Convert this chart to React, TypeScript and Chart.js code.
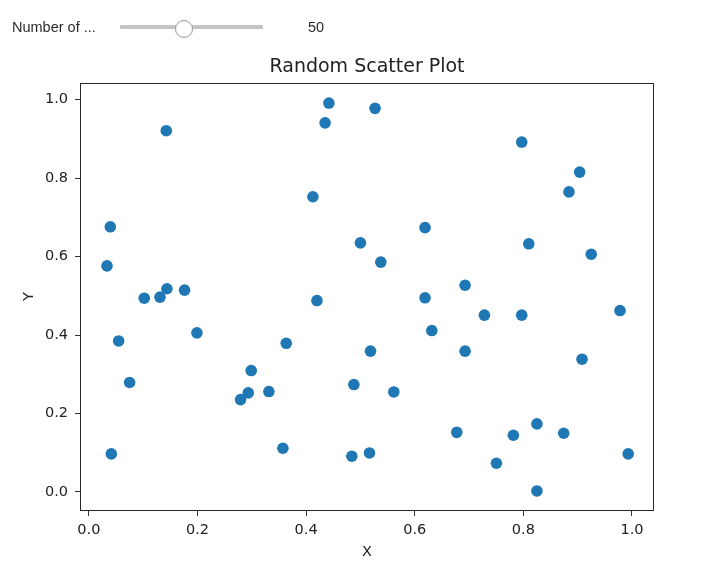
import React, { useEffect, useRef } from "react";
import { Chart, registerables } from "chart.js";

Chart.register(...registerables);

const chartTitle = "Random Scatter Plot";
const xAxisLabel = "X";
const yAxisLabel = "Y";
const sliderLabel = "Number of ...";
const sliderValue = 50;
const sliderMin = 10;
const sliderMax = 100;

const xValues = [
  0.1426, 0.442, 0.435, 0.4125, 0.0396, 0.0335, 0.102, 0.131, 0.1438, 0.1763,
  0.42, 0.5, 0.527, 0.797, 0.9037, 0.884, 0.619, 0.81, 0.5376, 0.925,
  0.6927, 0.619, 0.978, 0.0549, 0.199, 0.3634, 0.0751, 0.299, 0.2935, 0.2794,
  0.3315, 0.488, 0.0414, 0.3573, 0.4842, 0.7283, 0.797, 0.6314, 0.5186, 0.6927,
  0.908, 0.5615, 0.6774, 0.825, 0.7816, 0.8743, 0.5167, 0.7504, 0.993, 0.825,
];
const yValues = [
  0.921, 0.9915, 0.941, 0.7526, 0.676, 0.5765, 0.494, 0.4966, 0.518, 0.5145,
  0.488, 0.635, 0.978, 0.892, 0.8155, 0.765, 0.674, 0.6327, 0.586, 0.606,
  0.527, 0.495, 0.4625, 0.385, 0.4056, 0.379, 0.279, 0.3095, 0.2526, 0.2355,
  0.256, 0.2738, 0.097, 0.1114, 0.091, 0.4507, 0.4507, 0.4115, 0.359, 0.359,
  0.3385, 0.255, 0.152, 0.1735, 0.1446, 0.1497, 0.0995, 0.0732, 0.097, 0.0026,
];
const xTickValues = [0.0, 0.2, 0.4, 0.6, 0.8, 1.0];
const yTickValues = [0.0, 0.2, 0.4, 0.6, 0.8, 1.0];
const xRange = [-0.0144, 1.0387];
const yRange = [-0.046, 1.0426];

const FONT = "'DejaVu Sans', 'Liberation Sans', sans-serif";
const UI_FONT = "'Liberation Sans', Arial, Helvetica, sans-serif";

const decorPlugin = {
  id: "decor",
  afterDraw(chart: any) {
    const { ctx, chartArea: a } = chart;
    ctx.save();
    ctx.strokeStyle = "#262626";
    ctx.lineWidth = 1;
    ctx.strokeRect(a.left - 0.5, a.top + 0.5, a.right - a.left + 1, a.bottom - a.top);
    ctx.fillStyle = "#222";
    ctx.textAlign = "center";
    ctx.textBaseline = "alphabetic";
    ctx.font = `19px ${FONT}`;
    ctx.fillText(chartTitle, (a.left + a.right) / 2, 71.5);
    ctx.font = `14.5px ${FONT}`;
    ctx.fillText(xAxisLabel, (a.left + a.right) / 2, 555.5);
    ctx.save();
    ctx.translate(32.5, (a.top + a.bottom) / 2);
    ctx.rotate(-Math.PI / 2);
    ctx.fillText(yAxisLabel, 0, 0);
    ctx.restore();
    ctx.restore();
  },
};

function ChartView() {
  const ref = useRef<HTMLCanvasElement | null>(null);
  useEffect(() => {
    if (!ref.current) return;
    const data = xValues.map((x, i) => ({ x, y: yValues[i] }));
    const chart = new Chart(ref.current, {
      type: "scatter",
      data: {
        datasets: [
          {
            data,
            backgroundColor: "#1f77b4",
            borderWidth: 0,
            pointRadius: 5.8,
            pointHoverRadius: 5.8,
          },
        ],
      },
      options: {
        animation: false,
        responsive: false,
        events: [],
        layout: { padding: { left: 0, right: 60, top: 83, bottom: 0 } },
        plugins: {
          legend: { display: false },
          title: { display: false },
          tooltip: { enabled: false },
        },
        scales: {
          x: {
            type: "linear",
            min: xRange[0],
            max: xRange[1],
            afterBuildTicks: (s: any) => {
              s.ticks = xTickValues.map((v) => ({ value: v }));
            },
            afterFit: (s: any) => {
              s.height = 58;
            },
            ticks: {
              callback: (v: any) => Number(v).toFixed(1),
              font: { family: FONT, size: 14.5 },
              color: "#222",
              padding: 6,
              maxRotation: 0,
            },
            grid: {
              drawOnChartArea: false,
              drawTicks: true,
              tickLength: 6,
              color: "#333",
              lineWidth: 1,
            },
            border: { display: false },
          },
          y: {
            type: "linear",
            min: yRange[0],
            max: yRange[1],
            afterBuildTicks: (s: any) => {
              s.ticks = yTickValues.map((v) => ({ value: v }));
            },
            afterFit: (s: any) => {
              s.width = 81;
            },
            ticks: {
              callback: (v: any) => Number(v).toFixed(1),
              font: { family: FONT, size: 14.5 },
              color: "#222",
              padding: 7,
            },
            grid: {
              drawOnChartArea: false,
              drawTicks: true,
              tickLength: 6,
              color: "#333",
              lineWidth: 1,
            },
            border: { display: false },
          },
        },
      },
      plugins: [decorPlugin],
    } as any);
    return () => chart.destroy();
  }, []);
  return (
    <canvas
      ref={ref}
      width={713}
      height={568}
      style={{ position: "absolute", left: 0, top: 0, width: 713, height: 568 }}
    />
  );
}

function SliderRow() {
  const trackLeft = 120;
  const trackWidth = 143;
  const frac = (sliderValue - sliderMin) / (sliderMax - sliderMin);
  const knobX = trackLeft + frac * trackWidth;
  const textStyle: React.CSSProperties = {
    position: "absolute",
    top: 18,
    height: 18,
    lineHeight: "18px",
    fontFamily: UI_FONT,
    fontSize: 14.5,
    color: "rgba(0,0,0,0.85)",
    whiteSpace: "nowrap",
  };
  return (
    <>
      <div style={{ ...textStyle, left: 12 }}>{sliderLabel}</div>
      <div
        style={{
          position: "absolute",
          left: trackLeft,
          top: 25,
          width: trackWidth,
          height: 4,
          background: "#c4c4c4",
          borderRadius: 1,
        }}
      />
      <div
        style={{
          position: "absolute",
          left: knobX - 9,
          top: 19.5,
          width: 16,
          height: 16,
          borderRadius: "50%",
          background: "#fff",
          border: "1px solid #9a9a9a",
        }}
      />
      <div style={{ ...textStyle, left: 308 }}>{sliderValue}</div>
    </>
  );
}

export default function App() {
  return (
    <div
      style={{
        position: "absolute",
        left: 0,
        top: 0,
        width: 713,
        height: 568,
        background: "#fff",
        overflow: "hidden",
      }}
    >
      <ChartView />
      <SliderRow />
    </div>
  );
}
